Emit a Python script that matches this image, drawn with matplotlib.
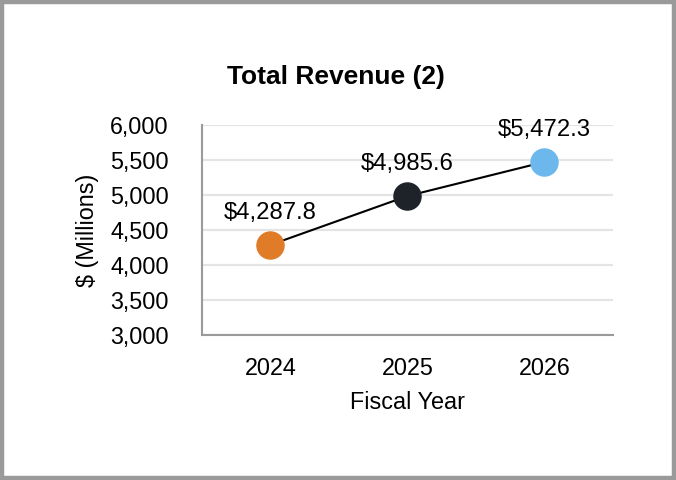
import matplotlib
matplotlib.use('Agg')
import matplotlib.pyplot as plt
from matplotlib.patches import Rectangle
from matplotlib.ticker import FuncFormatter

# data
years = ['2024', '2025', '2026']
revenue = [4287.8, 4985.6, 5472.3]
labels = ['$4,287.8', '$4,985.6', '$5,472.3']
colors = ['#E07B28', '#1E2329', '#6CB8EC']
y_ticks = [3000, 3500, 4000, 4500, 5000, 5500, 6000]

plt.rcParams['font.family'] = ['Liberation Sans', 'DejaVu Sans']

fig = plt.figure(figsize=(6.76, 4.8), dpi=100)
ax = fig.add_axes([0.2988, 0.302, 0.608, 0.4376])

x = list(range(len(years)))
ax.plot(x, revenue, color='black', linewidth=1.5, zorder=2)
for i in x:
    ax.plot(x[i], revenue[i], 'o', color=colors[i], markersize=19.5, zorder=3)
    ax.annotate(labels[i], (x[i], revenue[i]), xytext=(0, 23), textcoords='offset points',
                ha='center', va='center', fontsize=17.2, color='black')

ax.set_xlim(-0.5, 2.5)
ax.set_ylim(3000, 6000)
ax.set_xticks(x)
ax.set_xticklabels(years)
ax.set_yticks(y_ticks)
ax.yaxis.set_major_formatter(FuncFormatter(lambda v, p: f'{v:,.0f}'))
ax.tick_params(axis='both', length=0, labelsize=16.8)
ax.tick_params(axis='y', pad=24)
ax.tick_params(axis='x', pad=16)

ax.grid(axis='y', color='#e4e4e4', linewidth=1.6, zorder=0)
ax.set_axisbelow(True)
for s in ['top', 'right']:
    ax.spines[s].set_visible(False)
for s in ['left', 'bottom']:
    ax.spines[s].set_color('#9a9a9a')
    ax.spines[s].set_linewidth(1.5)

ax.set_xlabel('Fiscal Year', fontsize=16.8, labelpad=8)
ax.set_ylabel('$ (Millions)', fontsize=16.8, labelpad=8)
# title is centred on the whole figure, not on the axes
fig.text(0.497, 0.84, 'Total Revenue (2)', fontsize=19, fontweight='bold',
         ha='center', va='center')

# grey frame around the figure
fig.patches.append(Rectangle((0.003, 0.004), 0.994, 0.992, transform=fig.transFigure,
                             fill=False, edgecolor='#9a9a9a', linewidth=3.2))

fig.savefig('out.png', dpi=100)
